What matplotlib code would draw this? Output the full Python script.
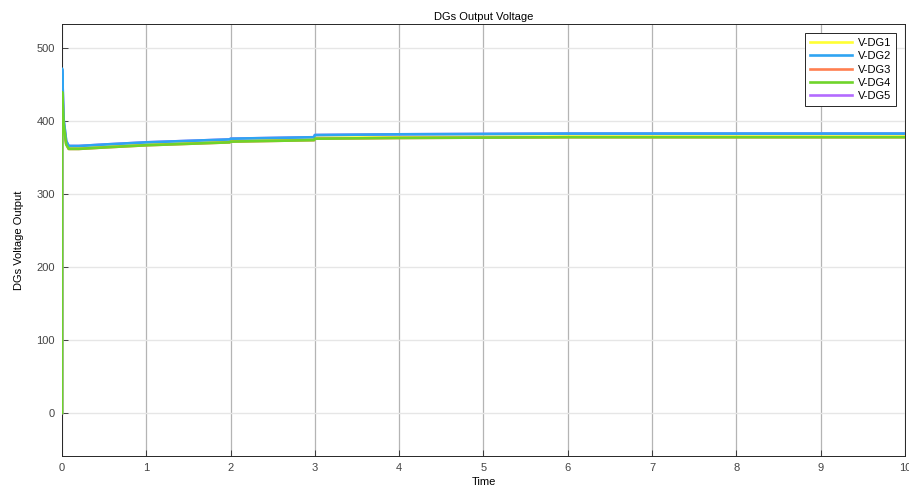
import matplotlib.pyplot as plt

plt.rcParams['font.family'] = ['Liberation Sans', 'DejaVu Sans']

# time samples (s) and DG output voltages
t = [0, 0.001, 0.02, 0.05, 0.08, 0.2, 0.5, 1.0, 1.5, 1.99, 2.0, 2.5, 2.99, 3.0, 4, 5, 6, 7, 8, 9, 10]
v_dg1 = [0, 438, 395, 369, 363, 363, 365, 368, 370, 372, 372.5, 374, 375, 377, 378, 378.5, 379, 379, 379, 379, 379]
v_dg2 = [0, 472, 402, 373, 366, 366, 368, 371, 373, 375, 376, 377, 378, 381, 382, 382.5, 383, 383, 383, 383, 383]
v_dg3 = [0, 446, 396, 369, 362, 362, 364, 367, 369, 371, 372, 373, 374, 376, 377, 377.5, 378, 378, 378, 378, 378]
v_dg4 = [0, 440, 395, 368, 362, 362, 364, 367, 369, 371, 372, 373, 374, 376, 377, 377.5, 378, 378, 378, 378, 378]
v_dg5 = [0, 470, 401, 372, 366, 366, 368, 371, 373, 375, 376, 377, 378, 381, 382, 382.5, 383, 383, 383, 383, 383]

labels = ['V-DG1', 'V-DG2', 'V-DG3', 'V-DG4', 'V-DG5']
colors = ['#ffff33', '#2fa4f2', '#ff7f50', '#6fd42a', '#b36bff']
zorders = [2, 4, 3, 5, 1]

fig = plt.figure(figsize=(9.09, 4.93), dpi=100)
ax = fig.add_axes([0.0682, 0.075, 0.9274, 0.876])

series = [v_dg1, v_dg2, v_dg3, v_dg4, v_dg5]
handles = []
for v, lab, col, z in zip(series, labels, colors, zorders):
    h, = ax.plot(t, v, color=col, lw=1.9, label=lab, zorder=z)
    handles.append(h)

ax.set_xlim(0, 10)
ax.set_ylim(-59, 533)
ax.set_xticks(range(0, 11))
ax.set_yticks(range(0, 501, 100))

ax.grid(axis='x', color='#b4b4b4', lw=0.9)
ax.grid(axis='y', color='#e6e6e6', lw=1.0)
ax.set_axisbelow(True)

ax.tick_params(direction='in', labelsize=8, labelcolor='#444444', colors='#262626',
               length=4, width=0.6, pad=5)
for sp in ax.spines.values():
    sp.set_color('#262626')
    sp.set_linewidth(0.7)

ax.set_title('DGs Output Voltage', fontsize=8, pad=3)
ax.set_xlabel('Time', fontsize=8, labelpad=3)
ax.set_ylabel('DGs Voltage Output', fontsize=8, labelpad=9)

leg = ax.legend(handles=handles, loc='upper right', fontsize=8, handlelength=3.8,
                borderaxespad=0.8, labelspacing=0.3, fancybox=False, framealpha=1,
                edgecolor='#262626', handletextpad=0.5, borderpad=0.45)
leg.get_frame().set_linewidth(0.7)

fig.savefig('out.png', dpi=100)
